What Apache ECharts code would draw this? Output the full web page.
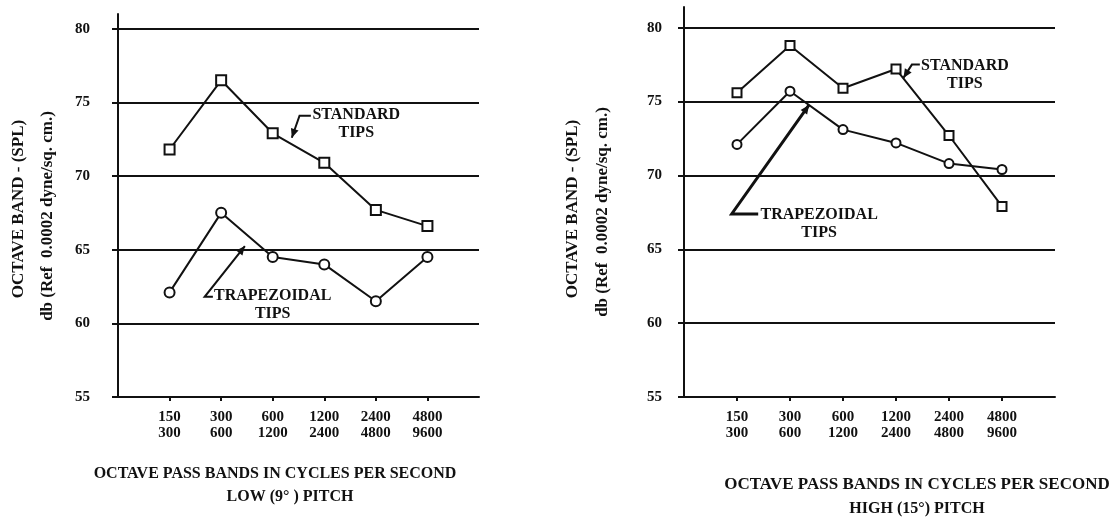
<!DOCTYPE html>
<html>
<head>
<meta charset="utf-8">
<script src="https://cdn.jsdelivr.net/npm/echarts@6/dist/echarts.min.js"></script>
<style>
  html, body { margin: 0; padding: 0; background: #fff; }
  #chart { width: 1116px; height: 519px; }
</style>
</head>
<body>
<div id="chart"></div>
<script>
// Octave pass bands (lower / upper edge, cycles per second)
const bandLow  = ['150', '300', '600', '1200', '2400', '4800'];
const bandHigh = ['300', '600', '1200', '2400', '4800', '9600'];

// Octave band SPL, db re 0.0002 dyne/sq. cm.
const lowPitchStandard    = [71.8, 76.5, 72.9, 70.9, 67.7, 66.6];
const lowPitchTrapezoidal = [62.1, 67.5, 64.5, 64.0, 61.5, 64.5];
const highPitchStandard    = [75.6, 78.8, 75.9, 77.2, 72.7, 67.9];
const highPitchTrapezoidal = [72.1, 75.7, 73.1, 72.2, 70.8, 70.4];

const yTickValues = [55, 60, 65, 70, 75, 80];
const gridLevels  = [60, 65, 70, 75, 80];

const FONT = '"Liberation Serif", "DejaVu Serif", serif';
const INK = '#111';

const bandPositions = bandLow.map((_, i) => i + 1);
const pairs = arr => arr.map((v, i) => [bandPositions[i], v]);

function xAxisFor(gridIndex) {
  return {
    type: 'value', gridIndex, min: 0, max: 7,
    axisLine: { show: true, onZero: false, lineStyle: { color: INK, width: 2 } },
    axisTick: { show: true, customValues: bandPositions, length: 4, lineStyle: { color: INK, width: 2 } },
    axisLabel: {
      customValues: bandPositions,
      formatter: v => bandLow[v - 1] + '\n' + bandHigh[v - 1],
      fontFamily: FONT, fontWeight: 'bold', fontSize: 15, color: INK,
      lineHeight: 16, margin: 12
    },
    splitLine: { show: false }
  };
}

function yAxisFor(gridIndex, max, labelMargin) {
  return {
    type: 'value', gridIndex, min: 55, max,
    axisLine: { show: true, lineStyle: { color: INK, width: 2 } },
    axisTick: { show: true, customValues: yTickValues, length: 6, lineStyle: { color: INK, width: 2 } },
    axisLabel: {
      customValues: yTickValues,
      fontFamily: FONT, fontWeight: 'bold', fontSize: 15, color: INK, margin: labelMargin
    },
    splitLine: { show: false }
  };
}

function lineSeries(name, gridIndex, values, symbol, size, withGrid) {
  const s = {
    name, type: 'line', xAxisIndex: gridIndex, yAxisIndex: gridIndex,
    data: pairs(values),
    symbol, symbolSize: size, showAllSymbol: true,
    lineStyle: { color: INK, width: 2 },
    itemStyle: { color: '#fff', borderColor: INK, borderWidth: 2 },
    z: 3, animation: false
  };
  if (withGrid) {
    s.markLine = {
      silent: true, symbol: 'none', animation: false,
      label: { show: false },
      lineStyle: { color: INK, width: 2, type: 'solid' },
      data: gridLevels.map(v => ({ yAxis: v })),
      z: 1
    };
  }
  return s;
}

const chart = echarts.init(document.getElementById('chart'), null, { renderer: 'canvas' });

chart.setOption({
  backgroundColor: '#fff',
  animation: false,
  grid: [
    { left: 118, right: 637, top: 14, bottom: 122 },
    { left: 684, right: 61, top: 7, bottom: 122 }
  ],
  xAxis: [xAxisFor(0), xAxisFor(1)],
  yAxis: [yAxisFor(0, 81, 28), yAxisFor(1, 81.4, 22)],
  series: [
    lineSeries('Standard tips (low pitch)', 0, lowPitchStandard, 'rect', 10, true),
    lineSeries('Trapezoidal tips (low pitch)', 0, lowPitchTrapezoidal, 'circle', 10, false),
    lineSeries('Standard tips (high pitch)', 1, highPitchStandard, 'rect', 9, true),
    lineSeries('Trapezoidal tips (high pitch)', 1, highPitchTrapezoidal, 'circle', 9, false)
  ]
});

// Callout labels with leader arrows, anchored in data coordinates
const callouts = [
  { grid: 0, text: 'STANDARD\nTIPS', at: [4.62, 73.55], path: [[3.74, 74.1], [3.52, 74.1], [3.37, 72.6]], width: 2 },
  { grid: 0, text: 'TRAPEZOIDAL\nTIPS', at: [3.0, 61.27], path: [[1.84, 61.8], [1.68, 61.8], [2.46, 65.25]], width: 2 },
  { grid: 1, text: 'STANDARD\nTIPS', at: [5.30, 76.82], path: [[4.45, 77.5], [4.30, 77.5], [4.14, 76.6]], width: 2 },
  { grid: 1, text: 'TRAPEZOIDAL\nTIPS', at: [2.55, 66.7], path: [[1.40, 67.39], [0.90, 67.39], [2.36, 74.77]], width: 3 }
];

// Axis titles (pixel placement)
const xTitles = [
  { text: 'OCTAVE PASS BANDS IN CYCLES PER SECOND', cx: 275, cy: 474, size: 16 },
  { text: 'LOW (9° ) PITCH', cx: 290, cy: 497, size: 16 },
  { text: 'OCTAVE PASS BANDS IN CYCLES PER SECOND', cx: 917, cy: 485, size: 17 },
  { text: 'HIGH (15°) PITCH', cx: 917, cy: 509, size: 16 }
];
const yTitles = [
  { cx: 19, cy: 209, text: 'OCTAVE BAND - (SPL)' },
  { cx: 48, cy: 216, text: 'db (Ref  0.0002 dyne/sq. cm.)' },
  { cx: 573, cy: 209, text: 'OCTAVE BAND - (SPL)' },
  { cx: 603, cy: 212, text: 'db (Ref  0.0002 dyne/sq. cm.)' }
];

function px(grid, p) { return chart.convertToPixel({ gridIndex: grid }, p); }

const elements = [];
callouts.forEach(c => {
  const c0 = px(c.grid, c.at);
  elements.push({
    type: 'text', x: c0[0], y: c0[1], z: 10,
    style: {
      text: c.text, fill: INK, font: 'bold 16px ' + FONT,
      textAlign: 'center', textVerticalAlign: 'middle', lineHeight: 18
    }
  });
  const pts = c.path.map(p => px(c.grid, p));
  elements.push({
    type: 'polyline', z: 10,
    shape: { points: pts },
    style: { stroke: INK, lineWidth: c.width, fill: null }
  });
  const a = pts[pts.length - 2], b = pts[pts.length - 1];
  const ang = Math.atan2(b[1] - a[1], b[0] - a[0]);
  const L = 9, W = 4;
  const bx = b[0] - L * Math.cos(ang), by = b[1] - L * Math.sin(ang);
  elements.push({
    type: 'polygon', z: 10,
    shape: { points: [
      b,
      [bx + W * Math.sin(ang), by - W * Math.cos(ang)],
      [bx - W * Math.sin(ang), by + W * Math.cos(ang)]
    ] },
    style: { fill: INK }
  });
});
xTitles.forEach(t => {
  elements.push({
    type: 'text', x: t.cx, y: t.cy, z: 10,
    style: { text: t.text, fill: INK, font: 'bold ' + t.size + 'px ' + FONT, textAlign: 'center', textVerticalAlign: 'middle' }
  });
});
yTitles.forEach(t => {
  elements.push({
    type: 'text', x: t.cx, y: t.cy, rotation: Math.PI / 2, z: 10,
    style: { text: t.text, fill: INK, font: 'bold 17px ' + FONT, textAlign: 'center', textVerticalAlign: 'middle' }
  });
});

chart.setOption({ graphic: { elements } });
</script>
</body>
</html>
